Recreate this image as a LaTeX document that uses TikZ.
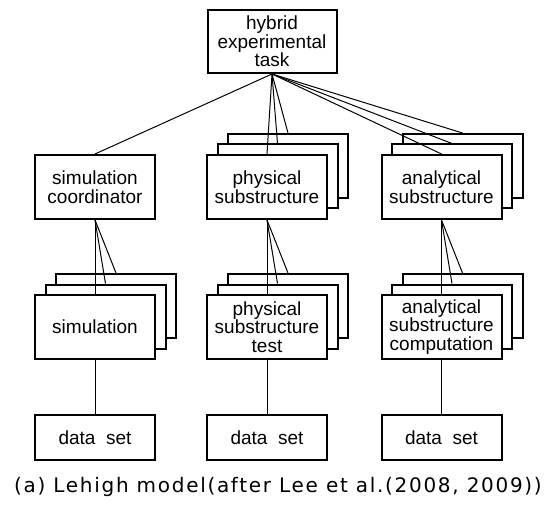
\documentclass[tikz,border=0pt]{standalone}
\usepackage{fontspec}
\usetikzlibrary{positioning}

\newfontfamily\boxfont{Liberation Sans}
\newfontfamily\capfont{DejaVu Sans}[LetterSpace=8.5]

\begin{document}
\begin{tikzpicture}[x=1pt, y=1pt,
    box/.style={draw, line width=2pt, fill=white, align=center, inner sep=0pt,
        minimum width=120pt, minimum height=64pt,
        font=\boxfont\fontsize{19}{18.5}\selectfont},
    link/.style={line width=1pt}]
    \useasboundingbox (0,0) rectangle (550,-519);

    \node[box, minimum width=129pt, minimum height=63pt] (task) at (272,-41.5) {hybrid\\experimental\\task};

    % copies behind the stacked boxes
    \foreach \n/\x/\y in {phys/267/-187, anal/441.5/-187, sim/95/-327, test/267/-327, comp/441.5/-327}
        \foreach \i in {2,1}
            \node[box] (\n\i) at (\x+\i*10.5, \y+\i*10.5) {};

    \node[box] (coord) at (95,-187) {simulation\\coordinator};
    \node[box] (phys) at (267,-187) {physical\\substructure};
    \node[box] (anal) at (441.5,-187) {analytical\\substructure};

    \node[box] (sim) at (95,-327) {simulation};
    \node[box] (test) at (267,-327) {physical\\substructure\\test};
    \node[box] (comp) at (441.5,-327) {analytical\\substructure\\computation};

    \node[box, minimum height=45pt] (data1) at (95,-437.5) {data\ \ set};
    \node[box, minimum height=45pt] (data2) at (267,-437.5) {data\ \ set};
    \node[box, minimum height=45pt] (data3) at (441.5,-437.5) {data\ \ set};

    \foreach \n in {coord, phys, phys1, phys2, anal, anal1, anal2}
        \draw[link] (task.south) -- (\n.north);

    \foreach \a/\b in {coord/sim, phys/test, anal/comp}
        \foreach \i in {, 1, 2}
            \draw[link] (\a.south) -- (\b\i.north);

    \draw[link] (sim.south) -- (data1.north);
    \draw[link] (test.south) -- (data2.north);
    \draw[link] (comp.south) -- (data3.north);

    \node[font=\capfont\fontsize{20}{20}\selectfont] (caption) at (278,-487)
        {(a) Lehigh model(after Lee et al.(2008, 2009))};
\end{tikzpicture}
\end{document}
